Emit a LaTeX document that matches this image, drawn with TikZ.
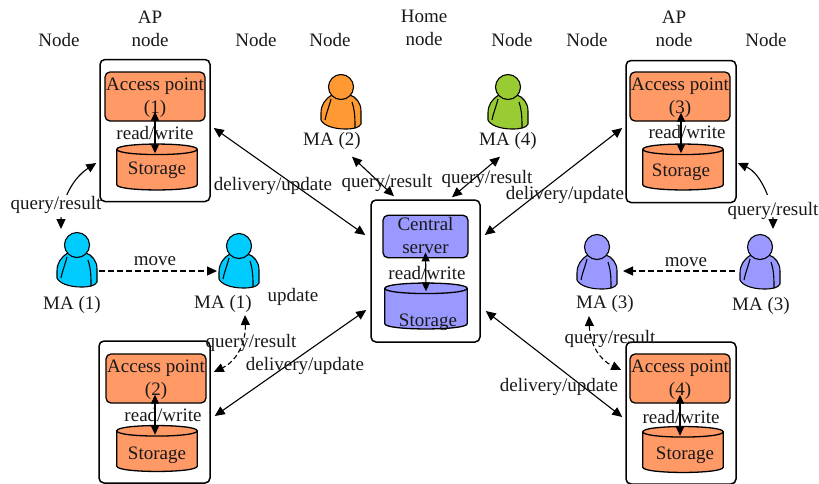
\documentclass[tikz,border=0pt]{standalone}
\usepackage{fontspec}
\setmainfont{Liberation Serif}
\usetikzlibrary{arrows.meta}
\definecolor{cyanp}{HTML}{00CCFF}
\definecolor{orangep}{HTML}{FF9933}
\definecolor{greenp}{HTML}{99CC33}
\definecolor{purplep}{HTML}{9999FF}
\definecolor{boxo}{HTML}{FF9966}
\newcommand{\twolines}[2]{\rule{0pt}{15.5pt}#1\\#2\rule[-4pt]{0pt}{4pt}}
\tikzset{
  lblbase/.style={font=\fontsize{19}{23}\selectfont,inner sep=0pt,align=center,text=black!90},
  lbl/.style={lblbase,text height=13pt,text depth=4pt,yshift=-1pt},
  gapmask/.style={fill=white,inner sep=0pt,minimum width=20pt,minimum height=22pt},
  outerbox/.style={draw,line width=1.5pt,rounded corners=5pt,fill=white,minimum width=110pt,minimum height=142pt,inner sep=0pt},
  innerbox/.style={lblbase,draw,line width=1.3pt,rounded corners=5pt,minimum width=100pt,minimum height=49pt,inner sep=0pt,fill=boxo},
  store/.style={inner sep=0pt,minimum width=80pt,minimum height=45pt},
  cylline/.style={line width=1.3pt},
  link/.style={line width=1.1pt,{Triangle[length=10pt,width=9pt]}-{Triangle[length=10pt,width=9pt]}},
  rw/.style={line width=1.2pt,{Triangle[length=9pt,width=8pt]}-{Triangle[length=9pt,width=8pt]}},
  mv/.style={line width=1.2pt,dash pattern=on 6pt off 3pt,-{Triangle[length=10pt,width=9pt]}},
  dlink/.style={link,dash pattern=on 5pt off 3pt},
  person/.pic={
    \draw[line width=1.1pt,fill=#1,line join=round] (-9,8) .. controls (-16,12) and (-20,18) .. (-20,26)
       -- (-20,33) .. controls (-18,38) and (-8,42) .. (4,42)
       .. controls (12,42) and (18,41) .. (20,37) -- (20,24)
       .. controls (20,16) and (15,10) .. (9,8) -- cycle;
    \draw[line width=1.1pt] (-10,12) .. controls (-12,20) and (-15,27) .. (-16,33);
    \draw[line width=1.1pt] (11,15) .. controls (14,24) and (14,32) .. (14,41);
    \draw[line width=1.1pt,fill=#1] (0,0) circle (12.5);
  }
}
\newcommand{\cylfill}[2]{%
  \draw[cylline,fill=#2] ([yshift=-5pt]#1.north west)
    .. controls ([yshift=2pt]#1.north west) and ([yshift=2pt]#1.north east) .. ([yshift=-5pt]#1.north east)
    -- ([yshift=5pt]#1.south east)
    .. controls ([yshift=-2pt]#1.south east) and ([yshift=-2pt]#1.south west) .. ([yshift=5pt]#1.south west)
    -- cycle;
  \draw[cylline] ([yshift=-5pt]#1.north east)
    .. controls ([yshift=-12pt]#1.north east) and ([yshift=-12pt]#1.north west) .. ([yshift=-5pt]#1.north west);
}
\begin{document}
\begin{tikzpicture}[x=1pt,y=-1pt]
\useasboundingbox (0,0) rectangle (819,483);
% people anchors
\coordinate (pA) at (77,245);
\coordinate (pB) at (239,246);
\coordinate (pC) at (341,87);
\coordinate (pD) at (508,87);
\coordinate (pE) at (597,247);
\coordinate (pF) at (760,247);
% outer boxes
\node[outerbox] (boxA) at (155,130.5) {};
\node[outerbox,minimum width=111pt] (boxB) at (154.5,412) {};
\node[outerbox] (boxC) at (681,131.5) {};
\node[outerbox] (boxD) at (681,413) {};
\node[outerbox,minimum width=109pt] (boxS) at (425.5,271) {};
% inner boxes
\node[innerbox] (apA) at (155,96.5) {\twolines{Access point}{(1)}};
\node[innerbox] (apB) at (156,378.5) {\twolines{Access point}{(2)}};
\node[innerbox] (apC) at (680,96.5) {\twolines{Access point}{(3)}};
\node[innerbox] (apD) at (680,378.5) {\twolines{Access point}{(4)}};
\node[innerbox,fill=purplep,minimum width=85pt,minimum height=41pt] (srv) at (425.5,236.5) {\twolines{Central}{server}};
% storage
\node[store] (stA) at (157,167) {};
\node[store] (stB) at (157,448.5) {};
\node[store] (stC) at (683,167) {};
\node[store] (stD) at (683,449.5) {};
\node[store,minimum width=82pt] (stS) at (426,306) {};
\cylfill{stA}{boxo}
\cylfill{stB}{boxo}
\cylfill{stC}{boxo}
\cylfill{stD}{boxo}
\cylfill{stS}{purplep}
\node[lbl] (tA) at (157,168.5) {Storage};
\node[lbl] (tB) at (157,454) {Storage};
\node[lbl] (tC) at (681,171) {Storage};
\node[lbl] (tD) at (685,454) {Storage};
\node[lbl] (tS) at (428,321) {Storage};
% read/write labels
\node[lbl] (rwA) at (155,133.5) {read/write};
\node[lbl] (rwB) at (163,415.5) {read/write};
\node[lbl] (rwC) at (687,132.5) {read/write};
\node[lbl] (rwD) at (681,417.5) {read/write};
\node[lbl] (rwS) at (427,274) {read/write};
\draw[rw] ([yshift=10pt]apA.south) -- ([xshift=-2pt,yshift=-9pt]stA.north);
\draw[rw] ([xshift=-1pt,yshift=9pt]apB.south) -- ([xshift=-2pt,yshift=-9pt]stB.north);
\draw[rw] ([xshift=1pt,yshift=9pt]apC.south) -- ([xshift=-2pt,yshift=-9pt]stC.north);
\draw[rw] ([yshift=9pt]apD.south) -- ([xshift=-3pt,yshift=-9pt]stD.north);
\draw[rw] ([yshift=6pt]srv.south) -- ([yshift=-8pt]stS.north);
% top labels
\node[lbl] (n1) at (59,40.5) {Node};
\node[lblbase] (n2) at (150,29.5) {\twolines{AP}{node}};
\node[lbl] (n3) at (256,40.5) {Node};
\node[lbl] (n4) at (330,40.5) {Node};
\node[lblbase] (n5) at (424,28.5) {\twolines{Home}{node}};
\node[lbl] (n6) at (512,40.5) {Node};
\node[lbl] (n7) at (587,40.5) {Node};
\node[lblbase] (n8) at (674,29.5) {\twolines{AP}{node}};
\node[lbl] (n9) at (766,40.5) {Node};
% people
\pic at (pA) {person=cyanp};
\pic at (pB) {person=cyanp};
\pic at (pC) {person=orangep};
\pic at (pD) {person=greenp};
\pic at (pE) {person=purplep};
\pic at (pF) {person=purplep};
\node[lbl] (mA) at (72,304) {MA (1)};
\node[lbl] (mB) at (223,302.5) {MA (1)};
\node[lbl] (mC) at (332,139.5) {MA (2)};
\node[lbl] (mD) at (508,139.5) {MA (4)};
\node[lbl] (mE) at (605,302.5) {MA (3)};
\node[lbl] (mF) at (761,304.5) {MA (3)};
\node[lbl] (upd) at (293,296) {update};
% links to the central node
\draw[link] ([xshift=3pt,yshift=2.5pt]boxA.east) -- ([xshift=-5pt,yshift=36pt]boxS.west);
\draw[link] ([xshift=-4pt,yshift=-39pt]boxS.west) -- ([xshift=4pt,yshift=-4pt]boxB.east);
\draw[link] ([xshift=4pt,yshift=36pt]boxS.east) -- ([xshift=-3pt,yshift=3.5pt]boxC.west);
\draw[link] ([xshift=5pt,yshift=-40pt]boxS.east) -- ([xshift=-3pt,yshift=-4pt]boxD.west);
\draw[link] ([xshift=20pt,yshift=-7.5pt]mC.south) -- ([xshift=-31.5pt,yshift=3pt]boxS.north);
\draw[link] ([xshift=-8pt,yshift=-7.5pt]mD.south) -- ([xshift=26.5pt,yshift=2pt]boxS.north);
% query/result curved
\coordinate (qa) at (61,229);
\coordinate (qb) at (773,229);
\coordinate (qc) at (245,315);
\coordinate (qd) at (589,316);
\draw[link] (qa) .. controls (61,205) and (70,180) .. ([xshift=-3pt,yshift=-32.5pt]boxA.west);
\draw[link] (qb) .. controls (773,205) and (762,174) .. ([xshift=1pt,yshift=-31.5pt]boxC.east);
\draw[dlink] (qc) .. controls (246,345) and (235,362) .. ([xshift=3pt,yshift=40pt]boxB.east);
\draw[dlink] (qd) .. controls (590,345) and (600,360) .. ([xshift=-4pt,yshift=43pt]boxD.west);
\node[gapmask] (g1) at (62,206) {};
\node[gapmask] (g2) at (772,206) {};
\node[lbl] (q1) at (56,203.5) {query/result};
\node[lbl] (q2) at (773,210) {query/result};
\node[lbl] (q3) at (251,342) {query/result};
\node[lbl] (q4) at (610,337.5) {query/result};
\node[lbl] (q5) at (387,181.5) {query/result};
\node[lbl] (q6) at (487,178) {query/result};
\node[lbl] (d1) at (273,184.5) {delivery/update};
\node[lbl] (d2) at (565,193.5) {delivery/update};
\node[lbl] (d3) at (305,364.5) {delivery/update};
\node[lbl] (d4) at (559,385.5) {delivery/update};
% move
\node[lbl] (mv1) at (155,260) {move};
\node[lbl] (mv2) at (686,261) {move};
\draw[mv] ([xshift=22pt,yshift=-26pt]pA) -- ([xshift=-22pt,yshift=-25pt]pB);
\draw[mv] ([xshift=-25pt,yshift=-24pt]pF) -- ([xshift=26pt,yshift=-24pt]pE);
\end{tikzpicture}
\end{document}
